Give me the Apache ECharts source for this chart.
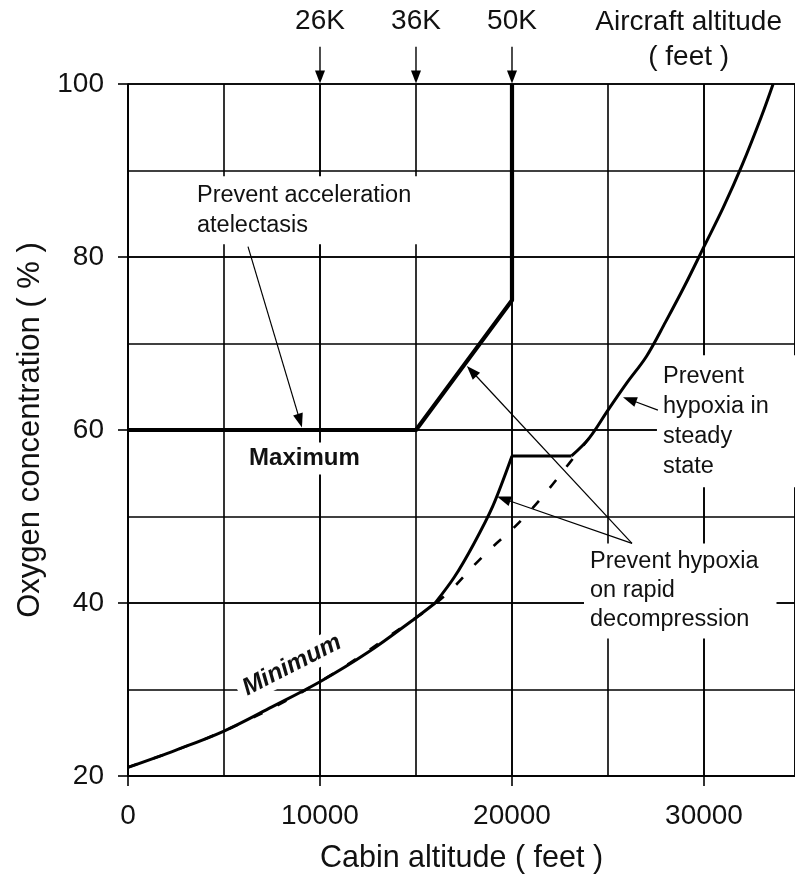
<!DOCTYPE html>
<html><head><meta charset="utf-8">
<script src="https://cdn.jsdelivr.net/npm/echarts@6/dist/echarts.min.js"></script>
<style>html,body{margin:0;padding:0;background:#fff}#c{width:795px;height:891px}</style>
</head><body><div id="c"></div>
<script>
// ---- data ----
const xTickValues = [0, 10000, 20000, 30000];
const yTickValues = [20, 40, 60, 80, 100];

const maxX = [0, 15000, 20000, 20000];
const maxY = [60, 60, 75, 100];

const minLowX = [0, 2500, 5000, 7500, 10000, 12500, 15000, 16000];
const minLowY = [21, 23, 25.2, 28, 30.9, 34.3, 38.3, 40];
const minRiseX = [16000, 17000, 18000, 19000, 20000];
const minRiseY = [40, 43, 46.8, 51.2, 57];
const minFlatX = [20000, 23100];
const minFlatY = [57, 57];
const minHighX = [23100, 24000, 25000, 26000, 27000, 28000, 29000, 30000, 31000, 32000, 33000, 33600];
const minHighY = [57, 59, 62.3, 65.5, 68.5, 72.5, 76.7, 81.2, 85.7, 90.7, 96.3, 100];

const dashX = [0, 5000, 10000, 15000, 16000, 17000, 18000, 19000, 20000, 21000, 22000, 23000, 24000];
const dashY = [21, 25.2, 30.9, 38.3, 39.9, 41.9, 44.3, 46.5, 48.5, 50.8, 53.4, 56.2, 59];

const aircraftLabels = ['26K', '36K', '50K'];
const aircraftCabin = [10000, 15000, 20000];

const zip = (xs, ys) => xs.map((x, i) => [x, ys[i]]);
const FONT = '"Liberation Sans", Arial, Helvetica, sans-serif';
const INK = '#000';
const X_MAX = 34740;

const chart = echarts.init(document.getElementById('c'), null, {renderer: 'canvas'});

const lineSeries = (xs, ys, width, type, z, smooth) => ({
  type: 'line', xAxisIndex: 0, yAxisIndex: 0, data: zip(xs, ys),
  symbol: 'none', smooth: smooth || false, clip: false, z: z || 3,
  lineStyle: {color: INK, width: width, type: type || 'solid', cap: 'butt', join: 'round'},
  animation: false, silent: true
});

const option = {
  animation: false,
  backgroundColor: '#fff',
  grid: {left: 128, top: 84, right: 0, bottom: 115, containLabel: false},
  xAxis: [
    {type: 'value', min: 0, max: X_MAX, interval: 10000, position: 'bottom',
     name: 'Cabin altitude ( feet )', nameLocation: 'middle', nameGap: 67,
     nameTextStyle: {fontFamily: FONT, fontSize: 30.5, color: '#111'},
     axisLine: {show: true, lineStyle: {color: INK, width: 1.6}},
     axisTick: {show: true, inside: false, length: 10, lineStyle: {color: INK, width: 1.6}},
     axisLabel: {show: true, margin: 26, fontFamily: FONT, fontSize: 28, color: '#111',
       showMaxLabel: false,
       formatter: v => xTickValues.includes(v) ? String(v) : ''},
     splitLine: {show: true, lineStyle: {color: INK, width: 1.6}}},
    {type: 'value', min: 0, max: X_MAX, interval: 5000, position: 'bottom',
     axisLine: {show: false}, axisTick: {show: false}, axisLabel: {show: false},
     splitLine: {show: true, lineStyle: {color: INK, width: 1.6}}}
  ],
  yAxis: [
    {type: 'value', min: 20, max: 100, interval: 20, position: 'left',
     name: 'Oxygen concentration ( % )', nameLocation: 'middle', nameGap: 82,
     nameTextStyle: {fontFamily: FONT, fontSize: 31, color: '#111'},
     axisLine: {show: true, lineStyle: {color: INK, width: 1.6}},
     axisTick: {show: true, inside: false, length: 10, lineStyle: {color: INK, width: 1.6}},
     axisLabel: {show: true, margin: 24, fontFamily: FONT, fontSize: 28, color: '#111',
       formatter: v => yTickValues.includes(v) ? String(v) : ''},
     splitLine: {show: true, lineStyle: {color: INK, width: 1.6}}},
    {type: 'value', min: 20, max: 100, interval: 10, position: 'left',
     axisLine: {show: false}, axisTick: {show: false}, axisLabel: {show: false},
     splitLine: {show: true, lineStyle: {color: INK, width: 1.6}}}
  ],
  series: [
    lineSeries(dashX, dashY, 2.6, [10, 17], 3, 0.35),
    lineSeries(minLowX, minLowY, 3, 'solid', 4, 0.35),
    lineSeries(minRiseX, minRiseY, 3, 'solid', 4, 0.3),
    lineSeries(minFlatX, minFlatY, 3, 'solid', 4, false),
    lineSeries(minHighX, minHighY, 3, 'solid', 4, 0.35),
    lineSeries(maxX, maxY, 4.2, 'solid', 4, false)
  ]
};
chart.setOption(option);

// ---- annotations positioned through the chart's own scales ----
const P = (x, y) => chart.convertToPixel({xAxisIndex: 0, yAxisIndex: 0}, [x, y]);
const g = [];
function arrow(from, to, lw, headLen, headHalf) {
  const a = P(from[0], from[1]), b = P(to[0], to[1]);
  const dx = b[0] - a[0], dy = b[1] - a[1];
  const L = Math.hypot(dx, dy), ux = dx / L, uy = dy / L;
  const bx = b[0] - ux * headLen, by = b[1] - uy * headLen;
  g.push({type: 'line', z: 50, silent: true,
    shape: {x1: a[0], y1: a[1], x2: bx + ux * 2, y2: by + uy * 2},
    style: {stroke: INK, lineWidth: lw}});
  g.push({type: 'polygon', z: 50, silent: true,
    shape: {points: [[b[0], b[1]], [bx - uy * headHalf, by + ux * headHalf], [bx + uy * headHalf, by - ux * headHalf]]},
    style: {fill: INK}});
}
function text(str, x, y, opts) {
  const p = P(x, y);
  g.push(Object.assign({type: 'text', z: 40, silent: true, x: p[0], y: p[1],
    style: Object.assign({text: str, font: '23.5px ' + FONT, fill: '#111',
      align: 'left', verticalAlign: 'middle'}, opts.style || {})}, opts.el || {}));
}

// top aircraft altitude markers
aircraftCabin.forEach((cx, i) => {
  arrow([cx, 104.3], [cx, 100.05], 1.4, 13, 5);
  text(aircraftLabels[i], cx, 107.3, {style: {font: '28px ' + FONT, align: 'center'}});
});
text('Aircraft altitude\n( feet )', 29200, 105.1, {style: {font: '28px ' + FONT, align: 'center', lineHeight: 35}});

// labels with white boxes that hide the grid behind them
text('Prevent acceleration\natelectasis', 3280, 85.4, {style: {lineHeight: 30, backgroundColor: '#fff', padding: [4, 6, 4, 6]}});
text('Maximum', 9190, 56.7, {style: {font: 'bold 24px ' + FONT, align: 'center', backgroundColor: '#fff', padding: [4, 8, 4, 8]}});
text('Minimum', 8540, 32.8, {style: {font: 'italic bold 24.5px ' + FONT, align: 'center', backgroundColor: '#fff', padding: [2, 6, 2, 6]},
  el: {rotation: 27 * Math.PI / 180}});
text('Prevent\nhypoxia in\nsteady\nstate', 27550, 61.0, {style: {lineHeight: 30, backgroundColor: '#fff', padding: [6, 40, 6, 6]}});
text('Prevent hypoxia\non rapid\ndecompression', 23750, 41.4, {style: {lineHeight: 29, backgroundColor: '#fff', padding: [4, 18, 4, 6]}});

// leader arrows
arrow([6250, 81.2], [9060, 60.3], 1.2, 14, 5);
arrow([26250, 46.9], [17650, 67.4], 1.2, 14, 5);
arrow([26250, 46.9], [19220, 52.3], 1.2, 14, 5);
arrow([27600, 62.3], [25780, 63.8], 1.2, 14, 5);

chart.setOption({graphic: {elements: g}});
</script>
</body></html>
